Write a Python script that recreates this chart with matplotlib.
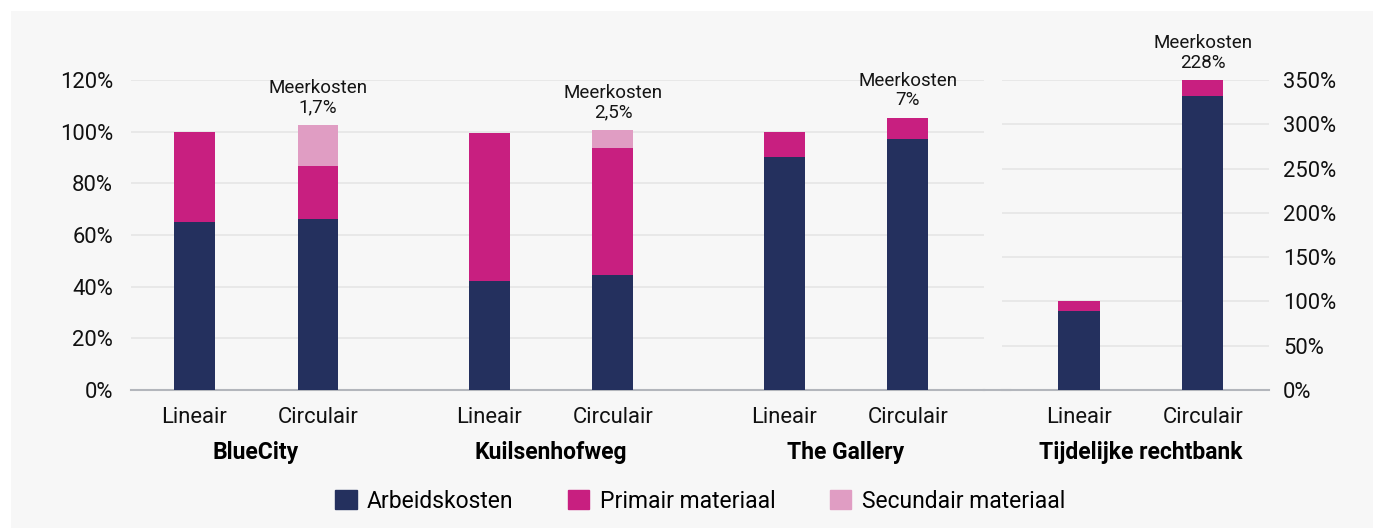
import matplotlib.pyplot as plt
from matplotlib.patches import Patch, Rectangle
import matplotlib.ticker as mtick

plt.rcParams['font.family'] = ['Roboto', 'DejaVu Sans']

# ---- Data (share of linear cost = 100%)
groups = ['BlueCity', 'Kuilsenhofweg', 'The Gallery', 'Tijdelijke rechtbank']
variants = ['Lineair', 'Circulair']
arbeid = [65.0, 66.3, 42.2, 44.6, 90.3, 97.3, 89.5, 331.8]
primair = [35.0, 20.5, 57.4, 49.2, 9.7, 8.1, 10.5, 18.2]
secundair = [0.0, 15.9, 0.0, 7.0, 0.0, 0.0, 0.0, 0.0]
meerkosten = ['1,7%', '2,5%', '7%', '228%']
left_ticks = [0, 20, 40, 60, 80, 100, 120]
right_ticks = [0, 50, 100, 150, 200, 250, 300, 350]

c_arbeid = '#24305e'
c_primair = '#c81f80'
c_secundair = '#e09dc3'
grid_c = '#e6e6e6'
base_c = '#b3b6bc'

fig = plt.figure(figsize=(13.73, 5.28), dpi=100, facecolor='white')
fig.patches.append(Rectangle((11 / 1373, 0), 1, 517 / 528, transform=fig.transFigure,
                             facecolor='#f7f7f7', edgecolor='none', zorder=-10))

ax = fig.add_axes([131 / 1373, 138 / 528, 853 / 1373, 310 / 528])
ax2 = fig.add_axes([1002 / 1373, 138 / 528, 267 / 1373, 310 / 528])

offset = 0.21
width = 0.139


def draw_group(a, g, gi, x0):
    for vi in range(2):
        i = gi * 2 + vi
        x = x0 + (offset if vi else -offset)
        a.bar(x, arbeid[i], width, color=c_arbeid, zorder=3)
        a.bar(x, primair[i], width, bottom=arbeid[i], color=c_primair, zorder=3)
        if secundair[i] > 0:
            a.bar(x, secundair[i], width, bottom=arbeid[i] + primair[i],
                  color=c_secundair, zorder=3)
        if vi == 1:
            top = arbeid[i] + primair[i] + secundair[i]
            a.annotate('Meerkosten\n' + meerkosten[gi], (x, top), xytext=(0, 6),
                       textcoords='offset points', ha='center', va='bottom',
                       fontsize=13.5, linespacing=1.1, color='#151515',
                       annotation_clip=False)
    a.annotate(g, (x0, 0), xycoords=a.get_xaxis_transform(), xytext=(0, -45),
               textcoords='offset points', ha='center', va='center',
               fontsize=16.5, fontweight='bold', annotation_clip=False)


xticks = []
xlabels = []
for gi in range(3):
    draw_group(ax, groups[gi], gi, gi)
    xticks += [gi - offset, gi + offset]
    xlabels += variants
draw_group(ax2, groups[3], 3, 0)

ax.set_xlim(-0.424, 2.468)
ax.set_ylim(0, 120)
ax.set_yticks(left_ticks)
ax.set_xticks(xticks)
ax.set_xticklabels(xlabels)

ax2.set_xlim(-0.471, 0.434)
ax2.set_ylim(0, 350)
ax2.set_yticks(right_ticks)
ax2.set_xticks([-offset, offset])
ax2.set_xticklabels(variants)
ax2.yaxis.tick_right()

for a in (ax, ax2):
    a.set_facecolor('none')
    a.yaxis.set_major_formatter(mtick.PercentFormatter(decimals=0))
    a.grid(axis='y', color=grid_c, linewidth=1.2, zorder=0)
    a.set_axisbelow(True)
    for s in ('top', 'left', 'right'):
        a.spines[s].set_visible(False)
    a.spines['bottom'].set_color(base_c)
    a.spines['bottom'].set_linewidth(1.5)
    a.tick_params(axis='both', length=0, labelsize=15.8, colors='#111111')
    a.tick_params(axis='x', pad=12)
ax.tick_params(axis='y', pad=13)
ax2.tick_params(axis='y', pad=10)

# Continuous baseline between the two panels
ax.axhline(0, xmin=1, xmax=1.03, color=base_c, linewidth=1.5, clip_on=False)

handles = [Patch(color=c_arbeid), Patch(color=c_primair), Patch(color=c_secundair)]
fig.legend(handles, ['Arbeidskosten', 'Primair materiaal', 'Secundair materiaal'],
           loc='center', bbox_to_anchor=(0.51, 27 / 528), ncol=3, frameon=False,
           fontsize=16.5, handlelength=0.92, handleheight=0.92, handletextpad=0.45,
           columnspacing=2.4)

plt.savefig('out.png', dpi=100, facecolor=fig.get_facecolor())
